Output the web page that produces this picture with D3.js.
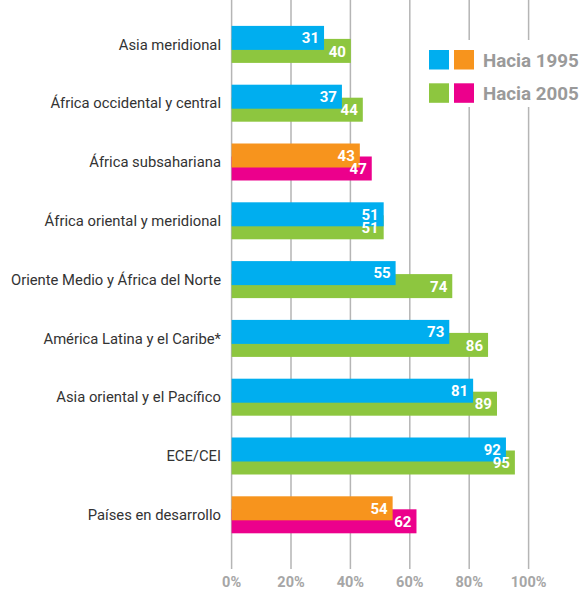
<!DOCTYPE html>
<html><head><meta charset="utf-8">
<script src="https://cdn.jsdelivr.net/npm/d3@7"></script>
<style>body{margin:0;background:#fff}svg{display:block}</style>
</head><body><svg id="c" width="588" height="590"></svg>
<script>
const categories = ["Asia meridional","África occidental y central","África subsahariana","África oriental y meridional","Oriente Medio y África del Norte","América Latina y el Caribe*","Asia oriental y el Pacífico","ECE/CEI","Países en desarrollo"];
const values1995 = [31,37,43,51,55,73,81,92,54];
const values2005 = [40,44,47,51,74,86,89,95,62];
const highlighted = ["África subsahariana","Países en desarrollo"];
const tickValues = [0,20,40,60,80,100];
const legendLabels = ["Hacia 1995","Hacia 2005"];

const svg = d3.select("#c");
const x = d3.scaleLinear().domain([0,100]).range([231.6,529.8]);
const y = d3.scaleBand().domain(categories).range([15,544.2]);
const font = "Roboto, 'Liberation Sans', Arial, sans-serif";
const col = {b:"#00aeef", g:"#8dc63f", o:"#f7941d", m:"#ec008c"};

// gridlines
svg.append("g").selectAll("line").data(tickValues).join("line")
  .attr("x1",d=>x(d)-d*0.012).attr("x2",d=>x(d)-d*0.012).attr("y1",0).attr("y2",569)
  .attr("stroke","#b5b5b5").attr("stroke-width",1.5);
// axis labels
svg.append("g").selectAll("text").data(tickValues).join("text")
  .attr("x",d=>x(d)-d*0.012).attr("y",587).attr("text-anchor","middle")
  .attr("font-family",font).attr("font-weight","bold").attr("font-size",14.5)
  .attr("fill","#a6a6a6").text(d=>d+"%");

const bh = 24;
const rows = categories.map((c,i)=>({c, v1:values1995[i], v2:values2005[i], hi:highlighted.includes(c)}));
const g = svg.append("g");
rows.forEach(r=>{
  const cy = y(r.c) + y.bandwidth()/2;
  const c1 = r.hi ? col.o : col.b, c2 = r.hi ? col.m : col.g;
  g.append("rect").attr("x",x(0)).attr("y",cy-5.5).attr("width",x(r.v2)-x(0)).attr("height",bh).attr("fill",c2);
  g.append("rect").attr("x",x(0)).attr("y",cy-18.5).attr("width",x(r.v1)-x(0)).attr("height",bh).attr("fill",c1);
  g.append("text").attr("x",x(r.v1)-5).attr("y",cy-6.5).attr("dy","0.35em").attr("text-anchor","end")
    .attr("font-family",font).attr("font-weight","bold").attr("font-size",15).attr("fill","#fff").text(r.v1);
  g.append("text").attr("x",x(r.v2)-5).attr("y",cy+7).attr("dy","0.35em").attr("text-anchor","end")
    .attr("font-family",font).attr("font-weight","bold").attr("font-size",15).attr("fill","#fff").text(r.v2);
  g.append("text").attr("x",221).attr("y",cy).attr("dy","0.35em").attr("text-anchor","end")
    .attr("font-family",font).attr("font-size",14.8).attr("fill","#333").text(r.c);
});

// legend
const lg = svg.append("g");
lg.append("rect").attr("x",420).attr("y",40).attr("width",168).attr("height",67).attr("fill","#fff");
const legendColors = [[col.b,col.o],[col.g,col.m]];
legendLabels.forEach((t,i)=>{
  const yy = 50 + i*33.3;
  lg.append("rect").attr("x",429).attr("y",yy).attr("width",20).attr("height",19.5).attr("fill",legendColors[i][0]);
  lg.append("rect").attr("x",454).attr("y",yy).attr("width",20).attr("height",19.5).attr("fill",legendColors[i][1]);
  lg.append("text").attr("x",483).attr("y",yy+16.5).attr("font-family",font).attr("font-weight","bold")
    .attr("font-size",18.8).attr("fill","#9a9a9a").text(t);
});
</script></body></html>
